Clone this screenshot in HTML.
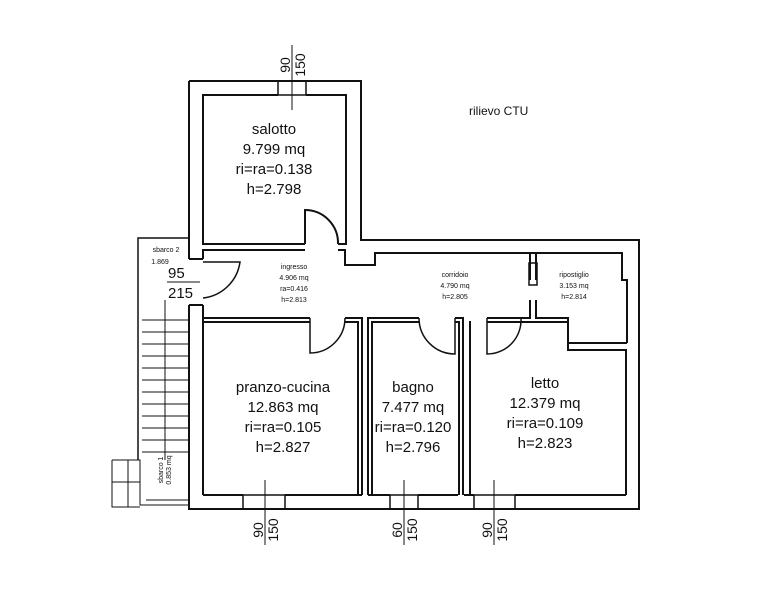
<!DOCTYPE html>
<html><head><meta charset="utf-8"><style>
html,body{margin:0;padding:0;background:#fff;width:762px;height:600px;overflow:hidden}
svg text{font-family:"Liberation Sans",sans-serif;fill:#111}
</style></head><body>
<svg width="762" height="600" viewBox="0 0 762 600" xmlns="http://www.w3.org/2000/svg">
<g fill="none" stroke="#111" stroke-width="2">
<!-- outer boundary -->
<polyline points="189,81 361,81 361,240 639,240 639,509 189,509 189,305"/>
<line x1="189" y1="81" x2="189" y2="259"/>
<line x1="189" y1="259" x2="203" y2="259"/><line x1="189" y1="305" x2="203" y2="305"/>
<!-- salotto inner -->
<polyline points="278,95 203,95 203,244 305,244"/>
<polyline points="306,95 346,95 346,244 338,244"/>
<!-- salotto window -->
<rect x="278" y="81" width="28" height="14" stroke-width="1.5"/>
<!-- ingresso / corridor -->
<polyline points="203,259 203,250 305,250"/>
<polyline points="338,250 345,250 345,265 375,265 375,253 622,253 622,280 627,280 627,343"/>
<line x1="203" y1="305" x2="203" y2="495"/>
<!-- rooms top walls -->
<polyline points="203,318 310,318"/>
<polyline points="345,318 362,318 362,495"/>
<polyline points="368,495 368,318 419,318"/>
<polyline points="455,318 463,318 463,495"/>
<polyline points="470,495 470,322 469,322"/>
<polyline points="487,318 530,318 530,300"/>
<polyline points="530,280 530,253"/>
<polyline points="487,322 568,322 568,350 626,350 626,495"/>
<polyline points="536,253 536,280"/><polyline points="536,300 536,318 568,318 568,343 627,343"/>
<!-- inner bottoms -->
<polyline points="203,495 243,495"/><polyline points="285,495 362,495"/>
<polyline points="368,495 390,495"/><polyline points="418,495 458,495"/>
<polyline points="464,495 474,495"/><polyline points="515,495 626,495"/>
<polyline points="203,322 310,322"/><polyline points="345,322 358,322 358,495"/>
<polyline points="372,495 372,322 419,322"/><polyline points="455,322 459,322 459,495"/>
<!-- windows bottom -->
<rect x="243" y="495" width="42" height="14" stroke-width="1.5"/>
<rect x="390" y="495" width="28" height="14" stroke-width="1.5"/>
<rect x="474" y="495" width="41" height="14" stroke-width="1.5"/>
<!-- doors -->
<path d="M305,244 L305,210 A33,33 0 0 1 338,244"/>
<path d="M310,318 L310,353 A35,35 0 0 0 345,318" stroke-width="1.5"/>
<path d="M419,318 A36,36 0 0 0 455,354 L455,318" stroke-width="1.5"/>
<path d="M487,318 L487,354 A34,34 0 0 0 521,318" stroke-width="1.5"/>
<path d="M203,262 L240,262 A42,42 0 0 1 203,298" stroke-width="1.5"/>
<!-- radiator -->
<rect x="529" y="263" width="8" height="22" stroke-width="1.5"/>
<!-- sbarco / stairs -->
<polyline points="189,238 138,238 138,460" stroke-width="1.5"/>
<polyline points="112,460 140,460 140,505 189,505" stroke-width="1"/>
<polyline points="112,460 112,507 140,507" stroke-width="1"/>
</g>
<g stroke="#111" stroke-width="1">
<line x1="142" y1="320" x2="189" y2="320"/><line x1="142" y1="332" x2="189" y2="332"/>
<line x1="142" y1="344" x2="189" y2="344"/><line x1="142" y1="356" x2="189" y2="356"/>
<line x1="142" y1="368" x2="189" y2="368"/><line x1="142" y1="380" x2="189" y2="380"/>
<line x1="142" y1="392" x2="189" y2="392"/><line x1="142" y1="404" x2="189" y2="404"/>
<line x1="142" y1="416" x2="189" y2="416"/><line x1="142" y1="428" x2="189" y2="428"/>
<line x1="142" y1="440" x2="189" y2="440"/><line x1="142" y1="452" x2="189" y2="452"/>
<line x1="165" y1="300" x2="165" y2="460"/>
<line x1="128" y1="460" x2="128" y2="507"/><line x1="112" y1="482" x2="140" y2="482"/>
<line x1="146" y1="500" x2="189" y2="500"/>
<line x1="292" y1="45" x2="292" y2="110"/>
<line x1="265" y1="480" x2="265" y2="545"/>
<line x1="404" y1="480" x2="404" y2="545"/>
<line x1="494" y1="480" x2="494" y2="545"/>
<line x1="167" y1="282" x2="200" y2="282"/>
</g>
<g text-anchor="middle" font-size="15">
<text x="274" y="134">salotto</text><text x="274" y="154">9.799 mq</text>
<text x="274" y="174">ri=ra=0.138</text><text x="274" y="194">h=2.798</text>
<text x="283" y="392">pranzo-cucina</text><text x="283" y="412">12.863 mq</text>
<text x="283" y="432">ri=ra=0.105</text><text x="283" y="452">h=2.827</text>
<text x="413" y="392">bagno</text><text x="413" y="412">7.477 mq</text>
<text x="413" y="432">ri=ra=0.120</text><text x="413" y="452">h=2.796</text>
<text x="545" y="388">letto</text><text x="545" y="408">12.379 mq</text>
<text x="545" y="428">ri=ra=0.109</text><text x="545" y="448">h=2.823</text>
</g>
<g text-anchor="middle" font-size="7">
<text x="294" y="269">ingresso</text><text x="294" y="280">4.906 mq</text>
<text x="294" y="291">ra=0.416</text><text x="294" y="302">h=2.813</text>
<text x="455" y="277">corridoio</text><text x="455" y="288">4.790 mq</text><text x="455" y="299">h=2.805</text>
<text x="574" y="277">ripostiglio</text><text x="574" y="288">3.153 mq</text><text x="574" y="299">h=2.814</text>
<text x="166" y="252">sbarco 2</text><text x="160" y="264">1.869</text>
</g>
<text x="168" y="278" font-size="15">95</text>
<text x="168" y="298" font-size="15">215</text>
<text x="469" y="115" font-size="12">rilievo CTU</text>
<text transform="translate(163,470) rotate(-90)" font-size="7" text-anchor="middle">sbarco 1</text>
<text transform="translate(171,470) rotate(-90)" font-size="7" text-anchor="middle">0.853 mq</text>
<g font-size="14" text-anchor="middle">
<text transform="translate(290,65) rotate(-90)">90</text><text transform="translate(305,65) rotate(-90)">150</text>
<text transform="translate(263,530) rotate(-90)">90</text><text transform="translate(278,530) rotate(-90)">150</text>
<text transform="translate(402,530) rotate(-90)">60</text><text transform="translate(417,530) rotate(-90)">150</text>
<text transform="translate(492,530) rotate(-90)">90</text><text transform="translate(507,530) rotate(-90)">150</text>
</g>
</svg>
</body></html>
